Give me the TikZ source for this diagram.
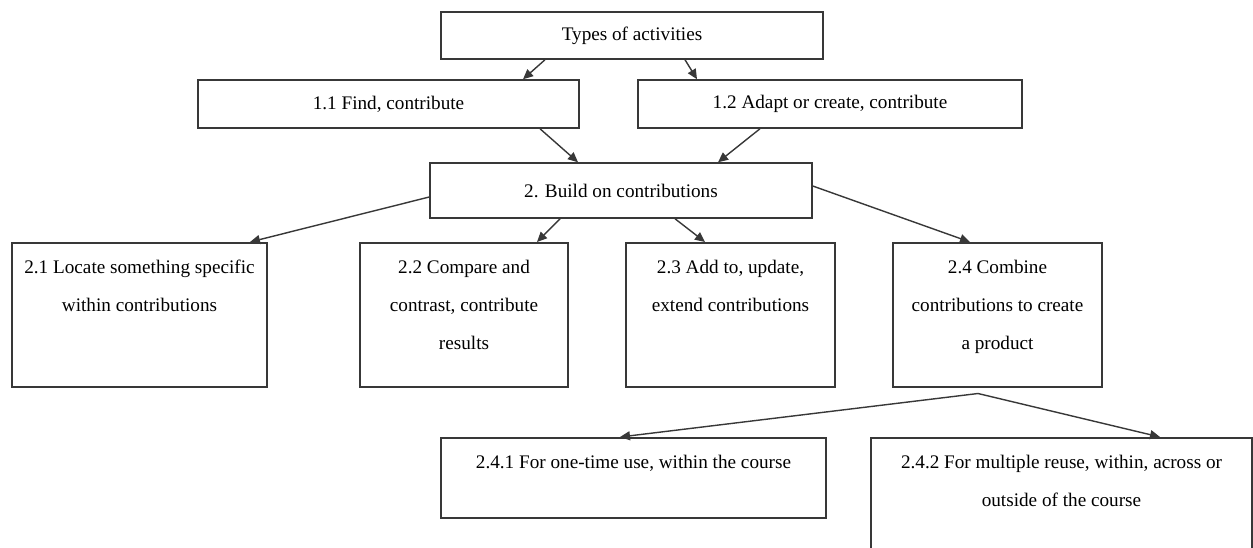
\documentclass[tikz,border=0pt]{standalone}
\usepackage{fontspec}
\setmainfont{Liberation Serif}
\usetikzlibrary{positioning,arrows.meta,calc}
\definecolor{linecolor}{rgb}{0.22,0.22,0.22}
\newcommand{\toptext}[3]{\parbox[c][#1][t]{#2}{\centering #3}}

\begin{document}
\begin{tikzpicture} [
			x=0.5pt,y=-0.5pt,
			box/.style={draw=linecolor,line width=0.75pt,inner xsep=0pt,inner ysep=0pt,align=center,font=\fontsize{9.6}{19}\selectfont},
			tallbox/.style={box,anchor=north,inner ysep=8.5pt},
			arrow/.style={draw=linecolor,line width=0.7pt,-{Triangle[length=5pt,width=4.5pt]}},
		]
		\clip (0,0) rectangle (1253,547);
		\fill[white] (0,0) rectangle (1253,547);

		\node[box,minimum width=191pt,minimum height=23.5pt] (types) at (632,35.5) {Types of activities};
		\node[box,minimum width=190.5pt,minimum height=24pt] (find) at (388.5,104) {1.1 Find, contribute};
		\node[box,minimum width=192pt,minimum height=24pt] (adapt) at (830,104) {1.2 Adapt or create, contribute};
		\node[box,minimum width=191pt,minimum height=27.5pt] (build) at (621,190.5) {2. Build on contributions};

		\node[tallbox,minimum width=127.5pt] (locate) at (139.5,242) {\toptext{55pt}{124pt}{2.1 Locate something specific\\within contributions}};
		\node[tallbox,minimum width=104pt] (compare) at (464,242) {\toptext{55pt}{100pt}{2.2 Compare and\\contrast, contribute\\results}};
		\node[tallbox,minimum width=104.5pt] (extend) at (730.5,242) {\toptext{55pt}{100pt}{2.3 Add to, update,\\extend contributions}};
		\node[tallbox,minimum width=104.5pt] (combine) at (997.5,242) {\toptext{55pt}{100pt}{2.4 Combine\\contributions to create\\a product}};

		\node[tallbox,minimum width=192.5pt] (onetime) at (633.5,437) {\toptext{23pt}{188pt}{2.4.1 For one-time use, within the course}};
		\node[tallbox,minimum width=190.5pt] (reuse) at (1061.5,437) {\toptext{44.5pt}{188pt}{2.4.2 For multiple reuse, within, across or\\outside of the course}};

		\coordinate (apex) at ([xshift=-9.75pt,yshift=-3pt]combine.south);

		\draw[arrow] ([xshift=-43.5pt]types.south) -- ([xshift=67.25pt]find.north);
		\draw[arrow] ([xshift=26.5pt]types.south) -- ([xshift=-66.5pt]adapt.north);
		\draw[arrow] ([xshift=75.75pt]find.south) -- ([xshift=-21.5pt]build.north);
		\draw[arrow] ([xshift=-35pt]adapt.south) -- ([xshift=48.5pt]build.north);

		\draw[arrow] ([yshift=-3.25pt]build.west) -- ([xshift=55.25pt]locate.north);
		\draw[arrow] ([xshift=-30.5pt]build.south) -- ([xshift=36.5pt]compare.north);
		\draw[arrow] ([xshift=27pt]build.south) -- ([xshift=-12.75pt]extend.north);
		\draw[arrow] ([yshift=2.25pt]build.east) -- ([xshift=-13.75pt]combine.north);

		\draw[arrow] (apex) -- ([xshift=-6.75pt]onetime.north);
		\draw[arrow] (apex) -- ([xshift=49.25pt]reuse.north);

	\end{tikzpicture}
\end{document}
